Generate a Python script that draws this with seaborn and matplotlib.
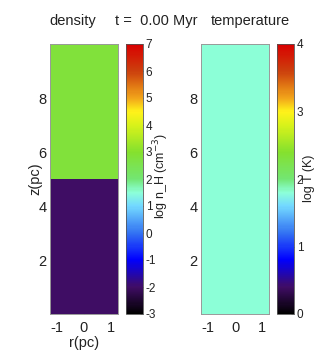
import numpy as np
import matplotlib
matplotlib.use("Agg")
import matplotlib.pyplot as plt
import seaborn as sns
from matplotlib.colors import LinearSegmentedColormap, Normalize
from matplotlib.ticker import MultipleLocator

sns.set_style("ticks")
plt.rcParams['font.family'] = ['Liberation Sans', 'DejaVu Sans']
plt.rcParams['axes.unicode_minus'] = False

# ---- data ----
r_edges = [-1.25, 1.25]
z_edges = [0.0, 5.0, 10.0]
density_log_nH = [[-2.0], [2.8]]   # bottom half, top half
temperature_logT = [[1.8], [1.8]]
density_range = (-3, 7)
temperature_range = (0, 4)
density_ticks = [-3, -2, -1, 0, 1, 2, 3, 4, 5, 6, 7]
temperature_ticks = [0, 1, 2, 3, 4]
z_ticks = [2, 4, 6, 8]
r_ticks = [-1, 0, 1]

nodes = [
    (0.00, (0.0, 0.0, 0.0)),
    (0.10, (0.25, 0.05, 0.40)),
    (0.20, (0.0, 0.0, 1.0)),
    (0.30, (0.20, 0.45, 0.95)),
    (0.40, (0.45, 0.85, 1.0)),
    (0.45, (0.55, 1.0, 0.85)),
    (0.50, (0.45, 0.90, 0.45)),
    (0.60, (0.52, 0.88, 0.18)),
    (0.70, (0.85, 0.95, 0.10)),
    (0.75, (1.0, 0.95, 0.10)),
    (0.80, (0.95, 0.65, 0.10)),
    (0.90, (0.80, 0.25, 0.05)),
    (1.00, (0.85, 0.0, 0.0)),
]
cmap = LinearSegmentedColormap.from_list("rainbow_gp", nodes, N=256)

fig = plt.figure(figsize=(3.35, 3.6), dpi=100)

ax_w, ax_h = 68 / 335, 270 / 360
ax_b = 46 / 360
cb_w = 17 / 335

ax1 = fig.add_axes([50 / 335, ax_b, ax_w, ax_h])
cax1 = fig.add_axes([126 / 335, ax_b, cb_w, ax_h])
ax2 = fig.add_axes([201 / 335, ax_b, ax_w, ax_h])
cax2 = fig.add_axes([277 / 335, ax_b, cb_w, ax_h])

tick_color = '#222222'
for ax, data, rng in [(ax1, density_log_nH, density_range),
                      (ax2, temperature_logT, temperature_range)]:
    m = ax.pcolormesh(r_edges, z_edges, np.array(data), cmap=cmap,
                      norm=Normalize(*rng), shading='flat')
    ax.set_xlim(r_edges[0], r_edges[-1])
    ax.set_ylim(z_edges[0], z_edges[-1])
    ax.set_xticks(r_ticks)
    ax.set_yticks(z_ticks)
    ax.yaxis.set_minor_locator(MultipleLocator(1))
    ax.tick_params(which='both', direction='in', top=True, right=True,
                   color='#777777', labelsize=10.5, labelcolor=tick_color)
    ax.tick_params(which='major', length=3, width=0.6)
    ax.tick_params(axis='x', which='major', pad=5)
    ax.tick_params(axis='y', which='major', pad=2.5)
    ax.tick_params(which='minor', length=1.5, width=0.5)
    for s in ax.spines.values():
        s.set_color('#999999')
        s.set_linewidth(0.7)
    ax.mappable = m

for cax, ax, ticks in [(cax1, ax1, density_ticks), (cax2, ax2, temperature_ticks)]:
    cb = fig.colorbar(ax.mappable, cax=cax, ticks=ticks)
    cb.outline.set_linewidth(0.6)
    cb.outline.set_edgecolor('#555555')
    cax.tick_params(direction='in', length=2, width=0.5, labelsize=8.5,
                    labelcolor=tick_color, pad=2, color='#555555')

ax1.set_ylabel('z(pc)', fontsize=10.5, color=tick_color, labelpad=-3)
ax1.set_xlabel('r(pc)', fontsize=10.5, color=tick_color, labelpad=1)

fig.text(161 / 335, 1 - 176 / 360, 'log n_H (cm$^{-3}$)', rotation=90,
         ha='center', va='center', fontsize=9, color=tick_color)
fig.text(309 / 335, 1 - 178 / 360, 'log T (K)', rotation=90,
         ha='center', va='center', fontsize=9, color=tick_color)

fig.text(72.5 / 335, 1 - 21 / 360, 'density', ha='center', va='center',
         fontsize=10.5, color=tick_color)
fig.text(156 / 335, 1 - 21 / 360, 't =  0.00 Myr', ha='center', va='center',
         fontsize=10.5, color=tick_color)
fig.text(250 / 335, 1 - 21 / 360, 'temperature', ha='center', va='center',
         fontsize=10.5, color=tick_color)

fig.savefig('out.png', dpi=100)
